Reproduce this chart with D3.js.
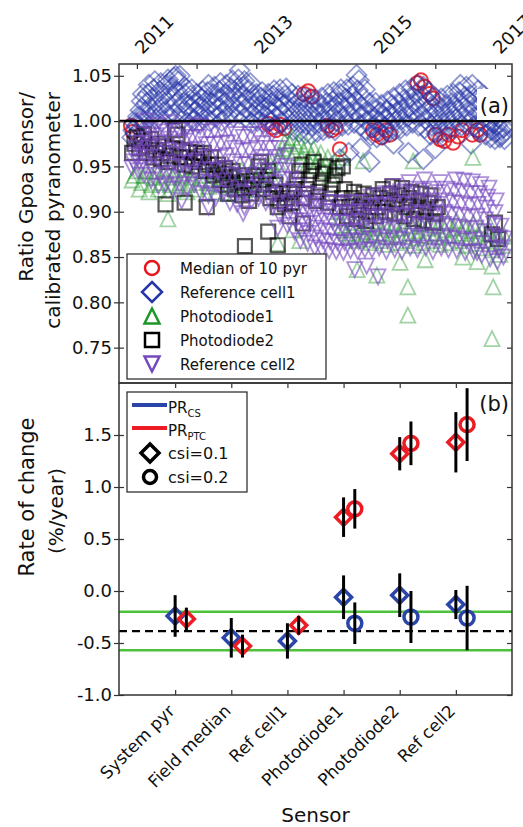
<!DOCTYPE html>
<html>
<head>
<meta charset="utf-8">
<script src="https://cdn.jsdelivr.net/npm/d3@7"></script>
<style>
  body { margin: 0; background: #fff; }
  svg { font-family: "DejaVu Sans", sans-serif; }
</style>
</head>
<body>
<div id="chart"></div>
<script>
// ---------- panel (a): ratio Gpoa sensor / calibrated pyranometer ----------
const seriesStart = 2010.92;   // decimal year of first sample
const denseStep = 0.02;        // years between samples, reference cells
const sparseStep = 0.04;       // years between samples, photodiodes

// median of 10 pyranometers: only the circles that show past the other sensors [year, ratio]
const medianPyr = [
  [2010.90, 0.995], [2010.93, 0.988], [2013.20, 0.997], [2013.27, 0.993], [2013.33, 0.99],
  [2013.40, 0.996], [2013.47, 0.992], [2013.80, 1.03], [2013.87, 1.033], [2013.93, 1.027],
  [2014.20, 0.995], [2014.27, 0.99], [2014.33, 0.993], [2014.40, 0.969], [2014.95, 0.99],
  [2015.02, 0.985], [2015.10, 0.982], [2015.17, 0.99], [2015.24, 0.985], [2015.70, 1.042],
  [2015.76, 1.045], [2015.82, 1.038], [2015.90, 1.03], [2015.96, 1.025], [2016.00, 0.985],
  [2016.08, 0.98], [2016.15, 0.978], [2016.22, 0.985], [2016.30, 0.976], [2016.38, 0.983],
  [2016.45, 0.99], [2016.62, 0.985], [2016.70, 0.99], [2016.75, 0.985]
];

const refCell1 = [
  0.982, 0.99, 0.998, 0.986, 0.995, 1.005, 1.0, 1.012, 1.022, 1.03,
  1.0, 1.01, 1.02, 1.03, 1.04, 1.004, 1.014, 1.025, 1.035, 1.044,
  1.002, 1.012, 1.022, 1.033, 1.042, 1.0, 1.01, 1.02, 1.03, 1.04,
  1.046, 1.006, 1.016, 1.027, 1.038, 1.048, 1.008, 1.02, 1.032, 1.044,
  1.05, 1.0, 1.01, 1.02, 1.03, 1.036, 0.998, 1.008, 1.018, 1.028,
  1.035, 1.0, 1.01, 1.02, 1.03, 0.998, 1.008, 1.016, 1.025, 1.033,
  1.002, 1.012, 1.022, 1.032, 1.04, 1.0, 1.01, 1.02, 1.03, 1.038,
  1.004, 1.014, 1.024, 1.033, 1.042, 1.0, 1.01, 1.02, 1.03, 1.04,
  1.006, 1.016, 1.026, 1.036, 1.045, 1.005, 1.015, 1.026, 1.036, 1.046,
  1.008, 1.018, 1.028, 1.038, 1.044, 1.004, 1.014, 1.024, 1.034, 1.042,
  0.998, 1.007, 1.016, 1.025, 1.03, 1.0, 1.008, 1.017, 1.026, 1.032,
  0.998, 1.006, 1.015, 1.024, 1.03, 1.0, 1.01, 1.02, 1.028, 1.034,
  0.995, 1.005, 1.015, 1.025, 1.035, 0.998, 1.008, 1.018, 1.028, 1.036,
  0.992, 1.002, 1.012, 1.022, 1.03, 0.99, 1.0, 1.01, 1.02, 1.028,
  0.988, 0.998, 1.008, 1.018, 1.026, 0.986, 0.996, 1.006, 1.016, 1.025,
  0.985, 0.995, 1.005, 1.015, 1.024, 0.988, 0.998, 1.008, 1.018, 1.026,
  0.99, 1.0, 1.01, 1.02, 1.03, 0.992, 1.002, 1.012, 1.022, 1.032,
  0.99, 1.0, 1.01, 1.02, 1.03, 1.035, 0.995, 1.005, 1.015, 1.025,
  1.035, 0.996, 1.006, 1.017, 1.028, 1.038, 0.998, 1.01, 1.022, 1.034,
  1.045, 0.995, 1.005, 1.015, 1.025, 1.035, 0.99, 1.0, 1.01, 1.02,
  0.984, 0.993, 1.002, 1.012, 1.02, 0.982, 0.99, 1.0, 1.01, 1.018,
  0.985, 0.994, 1.003, 1.012, 1.022, 0.988, 0.998, 1.008, 1.018, 1.026,
  0.99, 1.0, 1.01, 1.02, 1.03, 0.992, 1.002, 1.013, 1.024, 1.034,
  0.995, 1.005, 1.015, 1.026, 1.036, 0.998, 1.008, 1.019, 1.03, 1.04,
  0.995, 1.006, 1.017, 1.028, 1.038, 0.992, 1.002, 1.012, 1.022, 1.032,
  0.985, 0.995, 1.005, 1.015, 1.026, 0.986, 0.996, 1.006, 1.016, 1.025,
  0.988, 0.998, 1.008, 1.018, 1.028, 0.99, 1.0, 1.01, 1.02, 1.03,
  0.992, 1.002, 1.012, 1.022, 1.032, 1.04, 0.995, 1.005, 1.016, 1.027,
  1.038, 0.996, 1.006, 1.017, 1.028, 1.04, 0.994, 1.004, 1.014, 1.024,
  1.034, 0.99, 1.0, 1.01, 1.02, 1.028, 0.985, 0.995, 1.005, 1.014,
  0.982, 0.99, 0.998, 1.006, 0.98, 0.988, 0.996, 1.004, 0.982, 0.99,
  0.985, 0.993, 0.98
];

const photodiode1 = [
  0.935, 0.94, 0.945, 0.925, 0.932, 0.94, 0.945, 0.922, 0.93, 0.938,
  0.945, 0.925, 0.932, 0.94, 0.948, 0.92, 0.93, 0.938, 0.945, 0.925,
  0.932, 0.94, 0.948, 0.922, 0.93, 0.938, 0.945, 0.925, 0.932, 0.94,
  0.945, 0.92, 0.928, 0.936, 0.944, 0.922, 0.93, 0.938, 0.945, 0.92,
  0.928, 0.936, 0.944, 0.92, 0.93, 0.938, 0.946, 0.924, 0.932, 0.94,
  0.946, 0.925, 0.932, 0.94, 0.948, 0.93, 0.938, 0.945, 0.952, 0.935,
  0.945, 0.955, 0.962, 0.97, 0.978, 0.968, 0.975, 0.982, 0.965, 0.972,
  0.978, 0.958, 0.966, 0.974, 0.955, 0.962, 0.97, 0.95, 0.958, 0.965,
  0.945, 0.952, 0.96, 0.94, 0.948, 0.955, 0.9, 0.892, 0.885, 0.88,
  0.876, 0.872, 0.88, 0.888, 0.868, 0.876, 0.884, 0.87, 0.878, 0.886,
  0.866, 0.874, 0.882, 0.89, 0.868, 0.876, 0.884, 0.864, 0.872, 0.88,
  0.888, 0.866, 0.874, 0.882, 0.89, 0.868, 0.876, 0.884, 0.863, 0.871,
  0.879, 0.887, 0.866, 0.874, 0.882, 0.89, 0.868, 0.876, 0.884, 0.864,
  0.872, 0.88, 0.888, 0.866, 0.874, 0.882, 0.89, 0.868, 0.876, 0.884,
  0.863, 0.871, 0.879, 0.887, 0.865, 0.873, 0.881, 0.86, 0.868, 0.876,
  0.884, 0.858, 0.866, 0.874, 0.853, 0.863, 0.873
];

// photodiode2 is visible until early 2016, then only at the very end
const photodiode2 = [
  0.965, 0.975, 0.982, 0.97, 0.978, 0.985, 0.965, 0.972, 0.98, 0.96,
  0.968, 0.975, 0.958, 0.965, 0.972, 0.955, 0.962, 0.97, 0.99, 0.985,
  0.96, 0.968, 0.952, 0.96, 0.966, 0.95, 0.958, 0.965, 0.955, 0.962,
  0.965, 0.945, 0.952, 0.96, 0.94, 0.946, 0.952, 0.935, 0.942, 0.948,
  0.93, 0.938, 0.945, 0.925, 0.932, 0.94, 0.918, 0.926, 0.934, 0.912,
  0.92, 0.93, 0.94, 0.95, 0.955, 0.925, 0.935, 0.945, 0.915, 0.922,
  0.93, 0.905, 0.912, 0.92, 0.908, 0.915, 0.922, 0.91, 0.925, 0.935,
  0.945, 0.952, 0.915, 0.925, 0.935, 0.945, 0.955, 0.912, 0.922, 0.932,
  0.942, 0.95, 0.91, 0.92, 0.93, 0.94, 0.948, 0.905, 0.915, 0.925,
  0.895, 0.905, 0.915, 0.922, 0.892, 0.902, 0.912, 0.92, 0.89, 0.9,
  0.91, 0.918, 0.895, 0.905, 0.915, 0.925, 0.9, 0.91, 0.92, 0.928,
  0.898, 0.908, 0.918, 0.926, 0.895, 0.905, 0.915, 0.922, 0.892, 0.902,
  0.912, 0.92, 0.89, 0.9, 0.91, 0.918, 0.888, 0.898, 0.905
];

const refCell2 = [
  0.948, 0.955, 0.962, 0.97, 0.976, 0.945, 0.955, 0.965, 0.975, 0.985,
  0.94, 0.95, 0.96, 0.97, 0.98, 0.99, 0.935, 0.947, 0.96, 0.972,
  0.984, 0.995, 0.928, 0.94, 0.952, 0.964, 0.976, 0.988, 0.93, 0.942,
  0.955, 0.968, 0.98, 0.992, 0.925, 0.938, 0.95, 0.963, 0.976, 0.99,
  0.93, 0.942, 0.954, 0.966, 0.978, 0.99, 0.926, 0.94, 0.954, 0.968,
  0.982, 0.995, 0.93, 0.943, 0.956, 0.969, 0.982, 0.994, 0.92, 0.933,
  0.946, 0.96, 0.974, 0.988, 0.918, 0.932, 0.946, 0.96, 0.974, 0.99,
  0.915, 0.93, 0.945, 0.96, 0.975, 0.99, 0.92, 0.934, 0.948, 0.962,
  0.976, 0.99, 0.91, 0.925, 0.94, 0.955, 0.97, 0.985, 0.908, 0.922,
  0.937, 0.952, 0.967, 0.982, 0.905, 0.92, 0.936, 0.952, 0.968, 0.985,
  0.912, 0.926, 0.94, 0.955, 0.97, 0.985, 0.915, 0.93, 0.945, 0.96,
  0.975, 0.99, 0.91, 0.925, 0.94, 0.955, 0.97, 0.985, 0.905, 0.918,
  0.932, 0.946, 0.96, 0.97, 0.895, 0.908, 0.922, 0.936, 0.95, 0.962,
  0.885, 0.898, 0.91, 0.922, 0.935, 0.945, 0.878, 0.89, 0.902, 0.915,
  0.928, 0.868, 0.879, 0.89, 0.9, 0.91, 0.92, 0.865, 0.876, 0.887,
  0.898, 0.908, 0.918, 0.86, 0.871, 0.882, 0.893, 0.904, 0.914, 0.858,
  0.868, 0.879, 0.89, 0.9, 0.91, 0.857, 0.867, 0.878, 0.889, 0.9,
  0.91, 0.856, 0.866, 0.877, 0.888, 0.898, 0.908, 0.855, 0.866, 0.877,
  0.888, 0.899, 0.91, 0.857, 0.868, 0.879, 0.89, 0.9, 0.91, 0.856,
  0.867, 0.878, 0.889, 0.9, 0.91, 0.858, 0.87, 0.882, 0.894, 0.906,
  0.916, 0.858, 0.87, 0.882, 0.894, 0.906, 0.918, 0.86, 0.872, 0.884,
  0.896, 0.908, 0.92, 0.856, 0.868, 0.88, 0.893, 0.906, 0.918, 0.928,
  0.858, 0.87, 0.883, 0.896, 0.909, 0.922, 0.856, 0.869, 0.882, 0.895,
  0.908, 0.92, 0.932, 0.86, 0.873, 0.886, 0.899, 0.912, 0.925, 0.858,
  0.871, 0.884, 0.897, 0.91, 0.923, 0.935, 0.86, 0.873, 0.886, 0.899,
  0.912, 0.925, 0.856, 0.869, 0.882, 0.895, 0.908, 0.921, 0.932, 0.86,
  0.873, 0.886, 0.899, 0.912, 0.925, 0.858, 0.871, 0.884, 0.897, 0.91,
  0.923, 0.935, 0.857, 0.87, 0.883, 0.896, 0.909, 0.922, 0.934, 0.855,
  0.868, 0.881, 0.894, 0.907, 0.92, 0.933, 0.856, 0.869, 0.882, 0.895,
  0.908, 0.92, 0.93, 0.852, 0.865, 0.878, 0.891, 0.904, 0.916, 0.926,
  0.848, 0.86, 0.873, 0.886, 0.899, 0.912, 0.845, 0.858, 0.871, 0.884,
  0.86, 0.85, 0.87
];

// isolated points away from the main bands: [decimal year, ratio]
const refCell1Stray = [
  [2011.65, 1.05], [2012.72, 1.056], [2014.68, 1.051], [2014.40, 0.958], [2014.55, 0.965],
  [2014.75, 0.97], [2014.90, 0.955], [2015.30, 0.975], [2015.55, 0.965], [2015.80, 0.958],
  [2016.00, 0.97], [2016.60, 0.975]
];
const photodiode1Stray = [
  [2011.52, 0.892], [2013.36, 0.865], [2013.73, 0.868], [2013.62, 0.88], [2014.69, 0.836],
  [2015.02, 0.83], [2015.41, 0.844], [2015.54, 0.817], [2015.54, 0.786], [2015.83, 0.847],
  [2016.46, 0.85], [2016.70, 0.845], [2016.95, 0.84], [2016.97, 0.817], [2016.95, 0.76],
  [2015.63, 0.956], [2016.63, 0.96], [2014.45, 0.96], [2014.79, 0.956]
];
const photodiode2Stray = [
  [2011.48, 0.908], [2011.80, 0.91], [2012.17, 0.905], [2012.53, 0.92], [2012.81, 0.862],
  [2013.36, 0.863], [2013.56, 0.895], [2013.78, 0.887], [2013.20, 0.878], [2014.45, 0.95],
  [2016.95, 0.875], [2017.00, 0.888], [2017.05, 0.87]
];
const refCell2Stray = [
  [2011.75, 0.912], [2012.20, 0.905], [2012.78, 0.898], [2013.36, 0.882], [2014.65, 0.836],
  [2014.85, 0.84], [2015.04, 0.828], [2016.70, 0.855], [2011.15, 1.0], [2011.55, 0.998]
];

const ratioTicks = [0.75, 0.80, 0.85, 0.90, 0.95, 1.00, 1.05];
const yearTicks = [2011, 2012, 2013, 2014, 2015, 2016, 2017];
const yearLabels = [2011, 2013, 2015, 2017];

// ---------- panel (b): rate of change per sensor ----------
const sensors = ['System pyr', 'Field median', 'Ref cell1', 'Photodiode1', 'Photodiode2', 'Ref cell2'];
const prCsCsi01 = [-0.24, -0.45, -0.48, -0.06, -0.04, -0.13];
const prCsCsi01Err = [0.20, 0.19, 0.17, 0.21, 0.21, 0.14];
const prPtcCsi01 = [-0.27, -0.53, -0.33, 0.71, 1.32, 1.43];
const prPtcCsi01Err = [0.11, 0.11, 0.09, 0.19, 0.16, 0.29];
const prCsCsi02 = [null, null, null, -0.31, -0.25, -0.26];
const prCsCsi02Err = [null, null, null, 0.20, 0.25, 0.31];
const prPtcCsi02 = [null, null, null, 0.79, 1.42, 1.60];
const prPtcCsi02Err = [null, null, null, 0.19, 0.21, 0.35];
const rateTicks = [-1.0, -0.5, 0.0, 0.5, 1.0, 1.5];
const pyrBand = [-0.20, -0.57];   // green lines
const pyrMean = -0.385;           // dashed line

// marker outlines (centred on 0,0)
const shapes = {
  circle: r => `M${r},0A${r},${r} 0 1,1 ${-r},0A${r},${r} 0 1,1 ${r},0Z`,
  diamond: r => `M0,${-r}L${r},0L0,${r}L${-r},0Z`,
  triUp: r => `M0,${-r}L${r},${r}L${-r},${r}Z`,
  triDown: r => `M0,${r}L${r},${-r}L${-r},${-r}Z`,
  square: r => `M${-r},${-r}H${r}V${r}H${-r}Z`
};

const sampled = (values, step) => values.map((v, i) => [seriesStart + i * step, v]);

class RatioScatter {
  constructor(_config) {
    this.config = {
      svg: _config.svg,
      left: 119, right: 512, top: 64, bottom: 383
    };
    this.series = [
      {label: 'Median of 10 pyr', points: medianPyr, shape: 'circle', r: 7, color: '#e8141c', alpha: 0.85, width: 2},
      {label: 'Reference cell1', points: sampled(refCell1, denseStep).concat(refCell1Stray), shape: 'diamond', r: 10, color: '#2636a8', alpha: 0.5, width: 1.8},
      {label: 'Photodiode1', points: sampled(photodiode1, sparseStep).concat(photodiode1Stray), shape: 'triUp', r: 7.5, color: '#1e9628', alpha: 0.42, width: 1.8},
      {label: 'Photodiode2', points: sampled(photodiode2, sparseStep).concat(photodiode2Stray), shape: 'square', r: 7, color: '#000000', alpha: 0.65, width: 2.2},
      {label: 'Reference cell2', points: sampled(refCell2, denseStep).concat(refCell2Stray), shape: 'triDown', r: 7.5, color: '#7448bf', alpha: 0.6, width: 1.8}
    ];
    this.initVis();
  }

  initVis() {
    let vis = this;
    const c = vis.config;

    vis.xScale = d3.scaleLinear().domain([2010.7, 2017.285]).range([c.left, c.right]);
    vis.yScale = d3.scaleLinear().domain([0.711, 1.063]).range([c.bottom, c.top]);

    vis.svg = c.svg;
    vis.svg.append('clipPath').attr('id', 'clip-a')
      .append('rect')
      .attr('x', c.left).attr('y', c.top)
      .attr('width', c.right - c.left).attr('height', c.bottom - c.top);

    vis.chart = vis.svg.append('g').attr('clip-path', 'url(#clip-a)');
    vis.renderVis();
  }

  renderVis() {
    let vis = this;
    const c = vis.config;

    vis.series.forEach(s => {
      vis.chart.append('g')
        .selectAll('path')
        .data(s.points)
        .join('path')
        .attr('transform', d => `translate(${vis.xScale(d[0])},${vis.yScale(d[1])})`)
        .attr('d', shapes[s.shape](s.r))
        .attr('fill', 'none')
        .attr('stroke', s.color)
        .attr('stroke-opacity', s.alpha)
        .attr('stroke-width', s.width);
    });

    // reference line at ratio 1
    vis.chart.append('line')
      .attr('x1', c.left).attr('x2', c.right)
      .attr('y1', vis.yScale(1)).attr('y2', vis.yScale(1))
      .attr('stroke', '#000').attr('stroke-width', 2.5);

    // axes: left (in/out), right (in), top years
    const yAxisOut = d3.axisLeft(vis.yScale).tickValues(ratioTicks).tickFormat(d3.format('.2f')).tickSize(5).tickPadding(2);
    const yAxisIn = d3.axisRight(vis.yScale).tickValues(ratioTicks).tickFormat('').tickSize(5);
    const yAxisRight = d3.axisLeft(vis.yScale).tickValues(ratioTicks).tickFormat('').tickSize(5);
    const xAxisTop = d3.axisTop(vis.xScale).tickValues(yearTicks)
      .tickFormat(d => yearLabels.includes(d) ? d : '').tickSize(-5);

    const styleAxis = g => {
      g.select('.domain').remove();
      g.selectAll('.tick line').attr('stroke', '#333').attr('stroke-width', 1.2);
      g.selectAll('text').attr('font-size', 18).attr('fill', '#111').attr('font-family', 'DejaVu Sans');
    };

    vis.svg.append('g').attr('transform', `translate(${c.left},0)`).call(yAxisOut).call(styleAxis);
    vis.svg.append('g').attr('transform', `translate(${c.left},0)`).call(yAxisIn).call(styleAxis);
    vis.svg.append('g').attr('transform', `translate(${c.right},0)`).call(yAxisRight).call(styleAxis);
    vis.svg.append('g').attr('transform', `translate(0,${c.top})`).call(xAxisTop).call(styleAxis)
      .selectAll('.tick text')
      .attr('x', 0).attr('y', 0).attr('dy', 0)
      .attr('text-anchor', 'start')
      .attr('transform', 'translate(5,-9) rotate(-45)');

    // frame
    vis.svg.append('rect')
      .attr('x', c.left).attr('y', c.top)
      .attr('width', c.right - c.left).attr('height', c.bottom - c.top)
      .attr('fill', 'none').attr('stroke', '#333').attr('stroke-width', 1.5);

    // y title
    const yTitle = vis.svg.append('text')
      .attr('font-size', 20).attr('fill', '#111').attr('text-anchor', 'end')
      .attr('transform', 'rotate(-90)');
    yTitle.append('tspan').attr('x', -92).attr('y', 33).text('Ratio Gpoa sensor/');
    yTitle.append('tspan').attr('x', -92).attr('y', 60).text('calibrated pyranometer');

    // panel tag
    vis.svg.append('rect').attr('x', 477).attr('y', 89).attr('width', 34).attr('height', 31).attr('fill', '#fff');
    vis.svg.append('text').attr('x', 509).attr('y', 113).attr('text-anchor', 'end')
      .attr('font-size', 21).attr('fill', '#111').text('(a)');

    // legend
    const lg = vis.svg.append('g');
    lg.append('rect').attr('x', 127).attr('y', 254).attr('width', 199).attr('height', 125)
      .attr('fill', '#fff').attr('stroke', '#222').attr('stroke-width', 1.2);
    const item = lg.selectAll('.lg-item').data(vis.series).join('g')
      .attr('class', 'lg-item')
      .attr('transform', (d, i) => `translate(152,${268 + i * 24})`);
    item.append('path')
      .attr('d', d => shapes[d.shape](d.r))
      .attr('fill', 'none').attr('stroke', d => d.color).attr('stroke-width', 2.5);
    item.append('text').attr('x', 28).attr('y', 5.5)
      .attr('font-size', 15).attr('fill', '#111').text(d => d.label);
  }
}

class RateOfChange {
  constructor(_config) {
    this.config = {
      svg: _config.svg,
      left: 119, right: 512, top: 383, bottom: 695,
      dodge: 0.2
    };
    this.initVis();
  }

  initVis() {
    let vis = this;
    const c = vis.config;
    vis.svg = c.svg;
    vis.xScale = d3.scaleLinear().domain([0, sensors.length + 1]).range([c.left, c.right]);
    vis.yScale = d3.scaleLinear().domain([-1, 2]).range([c.bottom, c.top]);

    // one record per marker
    vis.points = [];
    sensors.forEach((s, i) => {
      const hasCsi02 = prCsCsi02[i] !== null;
      vis.points.push({pos: i + 1, v: prCsCsi01[i], err: prCsCsi01Err[i], pr: 'cs', csi: 0.1});
      vis.points.push({pos: i + 1 + (hasCsi02 ? 0 : c.dodge), v: prPtcCsi01[i], err: prPtcCsi01Err[i], pr: 'ptc', csi: 0.1});
      if (hasCsi02) {
        vis.points.push({pos: i + 1 + c.dodge, v: prCsCsi02[i], err: prCsCsi02Err[i], pr: 'cs', csi: 0.2});
        vis.points.push({pos: i + 1 + c.dodge, v: prPtcCsi02[i], err: prPtcCsi02Err[i], pr: 'ptc', csi: 0.2});
      }
    });
    vis.renderVis();
  }

  renderVis() {
    let vis = this;
    const c = vis.config;
    const colors = {cs: '#2a44a8', ptc: '#ec1c24'};

    // reference lines from the system pyranometer
    vis.svg.append('g').selectAll('line').data(pyrBand).join('line')
      .attr('x1', c.left).attr('x2', c.right)
      .attr('y1', d => vis.yScale(d)).attr('y2', d => vis.yScale(d))
      .attr('stroke', '#4cc23a').attr('stroke-width', 2.5);
    vis.svg.append('line')
      .attr('x1', c.left).attr('x2', c.right)
      .attr('y1', vis.yScale(pyrMean)).attr('y2', vis.yScale(pyrMean))
      .attr('stroke', '#000').attr('stroke-width', 2.2).attr('stroke-dasharray', '8,5');

    // markers
    vis.svg.append('g').selectAll('path').data(vis.points).join('path')
      .attr('transform', d => `translate(${vis.xScale(d.pos)},${vis.yScale(d.v)})`)
      .attr('d', d => d.csi === 0.1 ? shapes.diamond(8) : shapes.circle(7))
      .attr('fill', 'none')
      .attr('stroke', d => colors[d.pr])
      .attr('stroke-width', 3.5);

    // error bars
    vis.svg.append('g').selectAll('line').data(vis.points).join('line')
      .attr('x1', d => vis.xScale(d.pos)).attr('x2', d => vis.xScale(d.pos))
      .attr('y1', d => vis.yScale(d.v - d.err)).attr('y2', d => vis.yScale(d.v + d.err))
      .attr('stroke', '#000').attr('stroke-width', 3);

    // axes
    const styleAxis = g => {
      g.select('.domain').remove();
      g.selectAll('.tick line').attr('stroke', '#333').attr('stroke-width', 1.2);
      g.selectAll('text').attr('font-size', 18).attr('fill', '#111').attr('font-family', 'DejaVu Sans');
    };
    const catTicks = d3.range(1, sensors.length + 1);

    vis.svg.append('g').attr('transform', `translate(${c.left},0)`)
      .call(d3.axisLeft(vis.yScale).tickValues(rateTicks).tickFormat(d3.format('.1f')).tickSize(5).tickPadding(2))
      .call(styleAxis)
      .selectAll('text').text(d => d3.format('.1f')(d).replace('−', '-'));
    vis.svg.append('g').attr('transform', `translate(${c.left},0)`)
      .call(d3.axisRight(vis.yScale).tickValues(rateTicks).tickFormat('').tickSize(5)).call(styleAxis);
    vis.svg.append('g').attr('transform', `translate(${c.right},0)`)
      .call(d3.axisLeft(vis.yScale).tickValues(rateTicks).tickFormat('').tickSize(5)).call(styleAxis);
    vis.svg.append('g').attr('transform', `translate(0,${c.top})`)
      .call(d3.axisBottom(vis.xScale).tickValues(catTicks).tickFormat('').tickSize(5)).call(styleAxis);
    vis.svg.append('g').attr('transform', `translate(0,${c.bottom})`)
      .call(d3.axisBottom(vis.xScale).tickValues(catTicks).tickFormat(d => sensors[d - 1]).tickSize(-5))
      .call(styleAxis)
      .selectAll('.tick text')
      .attr('font-size', 17)
      .attr('x', 0).attr('y', 0).attr('dy', 0)
      .attr('text-anchor', 'end')
      .attr('transform', 'translate(0,17) rotate(-45)');

    vis.svg.append('rect')
      .attr('x', c.left).attr('y', c.top)
      .attr('width', c.right - c.left).attr('height', c.bottom - c.top)
      .attr('fill', 'none').attr('stroke', '#333').attr('stroke-width', 1.5);

    // titles
    vis.svg.append('text').attr('transform', 'translate(34,497) rotate(-90)')
      .attr('text-anchor', 'middle').attr('font-size', 21).attr('fill', '#111').text('Rate of change');
    vis.svg.append('text').attr('transform', 'translate(63,511) rotate(-90)')
      .attr('text-anchor', 'middle').attr('font-size', 20).attr('fill', '#111').text('(%/year)');
    vis.svg.append('text').attr('x', (c.left + c.right) / 2).attr('y', 822)
      .attr('text-anchor', 'middle').attr('font-size', 20).attr('fill', '#111').text('Sensor');
    vis.svg.append('text').attr('x', 509).attr('y', 411).attr('text-anchor', 'end')
      .attr('font-size', 21).attr('fill', '#111').text('(b)');

    // legend
    const lg = vis.svg.append('g');
    lg.append('rect').attr('x', 127).attr('y', 392).attr('width', 120).attr('height', 100)
      .attr('fill', '#fff').attr('stroke', '#222').attr('stroke-width', 1.2);
    [['cs', 'CS', 405], ['ptc', 'PTC', 428]].forEach(([k, sub, y]) => {
      lg.append('line').attr('x1', 132).attr('x2', 167).attr('y1', y).attr('y2', y)
        .attr('stroke', colors[k]).attr('stroke-width', 4);
      const t = lg.append('text').attr('x', 168).attr('y', y + 8).attr('font-size', 15).attr('fill', '#111');
      t.append('tspan').text('PR');
      t.append('tspan').attr('font-size', 10).attr('dy', 4).text(sub);
    });
    [[0.1, 453], [0.2, 477]].forEach(([csi, y]) => {
      lg.append('path').attr('transform', `translate(150,${y})`)
        .attr('d', csi === 0.1 ? shapes.diamond(9) : shapes.circle(6.5))
        .attr('fill', 'none').attr('stroke', '#000').attr('stroke-width', 3.5);
      lg.append('text').attr('x', 168).attr('y', y + 6).attr('font-size', 16).attr('fill', '#111')
        .text(`csi=${csi}`);
    });
  }
}

const svg = d3.select('#chart').append('svg').attr('width', 523).attr('height', 827);
new RatioScatter({svg: svg});
new RateOfChange({svg: svg});
</script>
</body>
</html>
